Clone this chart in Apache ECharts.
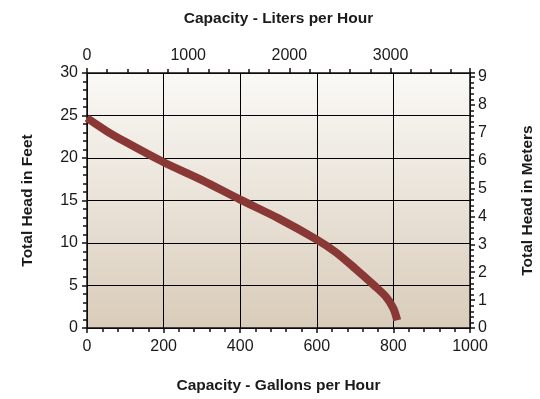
<!DOCTYPE html>
<html>
<head>
<meta charset="utf-8">
<script src="https://cdn.jsdelivr.net/npm/echarts@6/dist/echarts.min.js"></script>
<style>html,body{margin:0;padding:0;background:#fff;}#c{width:540px;height:399px;}</style>
</head>
<body>
<div id="c"></div>
<script>
// Data: pump curve (gallons per hour vs total head in feet)
const gallons = [0, 50, 100, 200, 300, 400, 500, 600, 650, 700, 750, 780, 800, 810];
const headFeet = [24.7, 23.2, 21.9, 19.5, 17.4, 15.1, 12.9, 10.4, 8.9, 7.0, 5.0, 3.7, 2.3, 0.9];
const gallonTicks = [0, 200, 400, 600, 800, 1000];
const literTicks = [0, 1000, 2000, 3000];
const feetTicks = [0, 5, 10, 15, 20, 25, 30];
const meterTicks = [0, 1, 2, 3, 4, 5, 6, 7, 8, 9];
const xTitle = 'Capacity - Gallons per Hour';
const x2Title = 'Capacity - Liters per Hour';
const yTitle = 'Total Head in Feet';
const y2Title = 'Total Head in Meters';

const GAL_TO_L = 3.78541;
const FT_TO_M = 0.3048;
const font = 'Liberation Sans, Arial, Helvetica, sans-serif';
const txt = '#1a1a1a';

const chart = echarts.init(document.getElementById('c'), null, {renderer: 'canvas'});
const lineStyle = {color: '#111', width: 1.5};
const labelStyle = {color: txt, fontSize: 16, fontFamily: font};
const nameStyle = {color: txt, fontSize: 15.5, fontWeight: 'bold', fontFamily: font};

const gMax = gallonTicks[gallonTicks.length - 1];
const fMax = feetTicks[feetTicks.length - 1];

chart.setOption({
  animation: false,
  backgroundColor: '#ffffff',
  grid: {
    left: 87, right: 70, top: 73, bottom: 71,
    outerBoundsMode: 'none',
    containLabel: false,
    show: true, borderWidth: 0,
    backgroundColor: new echarts.graphic.LinearGradient(0, 0, 0, 1, [
      {offset: 0, color: '#faf9f6'},
      {offset: 1, color: '#d9ccba'}
    ])
  },
  xAxis: [
    {
      type: 'value', position: 'bottom', min: 0, max: gMax, interval: 200,
      name: xTitle, nameLocation: 'middle', nameGap: 50, nameTextStyle: nameStyle,
      axisLine: {show: true, onZero: false, lineStyle: lineStyle},
      axisTick: {show: true, length: 5, lineStyle: {color: '#111', width: 1.5}},
      minorTick: {show: true, splitNumber: 5, length: 4, lineStyle: {color: '#111', width: 1.5}},
      axisLabel: Object.assign({margin: 11, formatter: v => String(v)}, labelStyle),
      splitLine: {show: true, lineStyle: {color: '#000', width: 1}}
    },
    {
      type: 'value', position: 'top', min: 0, max: gMax * GAL_TO_L, interval: 1000,
      name: x2Title, nameLocation: 'middle', nameGap: 46, nameTextStyle: nameStyle,
      axisLine: {show: true, onZero: false, lineStyle: lineStyle},
      axisTick: {show: true, length: 5, lineStyle: {color: '#111', width: 1.5}},
      minorTick: {show: true, splitNumber: 5, length: 4, lineStyle: {color: '#111', width: 1.5}},
      axisLabel: Object.assign({margin: 9, formatter: v => literTicks.indexOf(v) >= 0 ? String(v) : ''}, labelStyle),
      splitLine: {show: false}
    }
  ],
  yAxis: [
    {
      type: 'value', position: 'left', min: 0, max: fMax, interval: 5,
      name: yTitle, nameLocation: 'middle', nameGap: 51, nameTextStyle: nameStyle,
      axisLine: {show: true, onZero: false, lineStyle: lineStyle},
      axisTick: {show: true, length: 5, lineStyle: {color: '#111', width: 1.5}},
      minorTick: {show: true, splitNumber: 5, length: 4, lineStyle: {color: '#111', width: 1.5}},
      axisLabel: Object.assign({margin: 9}, labelStyle),
      splitLine: {show: true, lineStyle: {color: '#000', width: 1}}
    },
    {
      type: 'value', position: 'right', min: 0, max: fMax * FT_TO_M, interval: 1,
      name: y2Title, nameLocation: 'middle', nameGap: 50, nameTextStyle: nameStyle,
      axisLine: {show: true, onZero: false, lineStyle: lineStyle},
      axisTick: {show: true, length: 5, lineStyle: {color: '#111', width: 1.5}},
      minorTick: {show: true, splitNumber: 5, length: 4, lineStyle: {color: '#111', width: 1.5}},
      axisLabel: Object.assign({margin: 8, formatter: v => meterTicks.indexOf(v) >= 0 ? String(v) : ''}, labelStyle),
      splitLine: {show: false}
    }
  ],
  series: [{
    type: 'line',
    xAxisIndex: 0, yAxisIndex: 0,
    data: gallons.map((g, i) => [g, headFeet[i]]),
    smooth: 0.3,
    showSymbol: false,
    symbol: 'none',
    lineStyle: {color: '#8a3835', width: 8, cap: 'butt', join: 'round'}
  }]
});
</script>
</body>
</html>
